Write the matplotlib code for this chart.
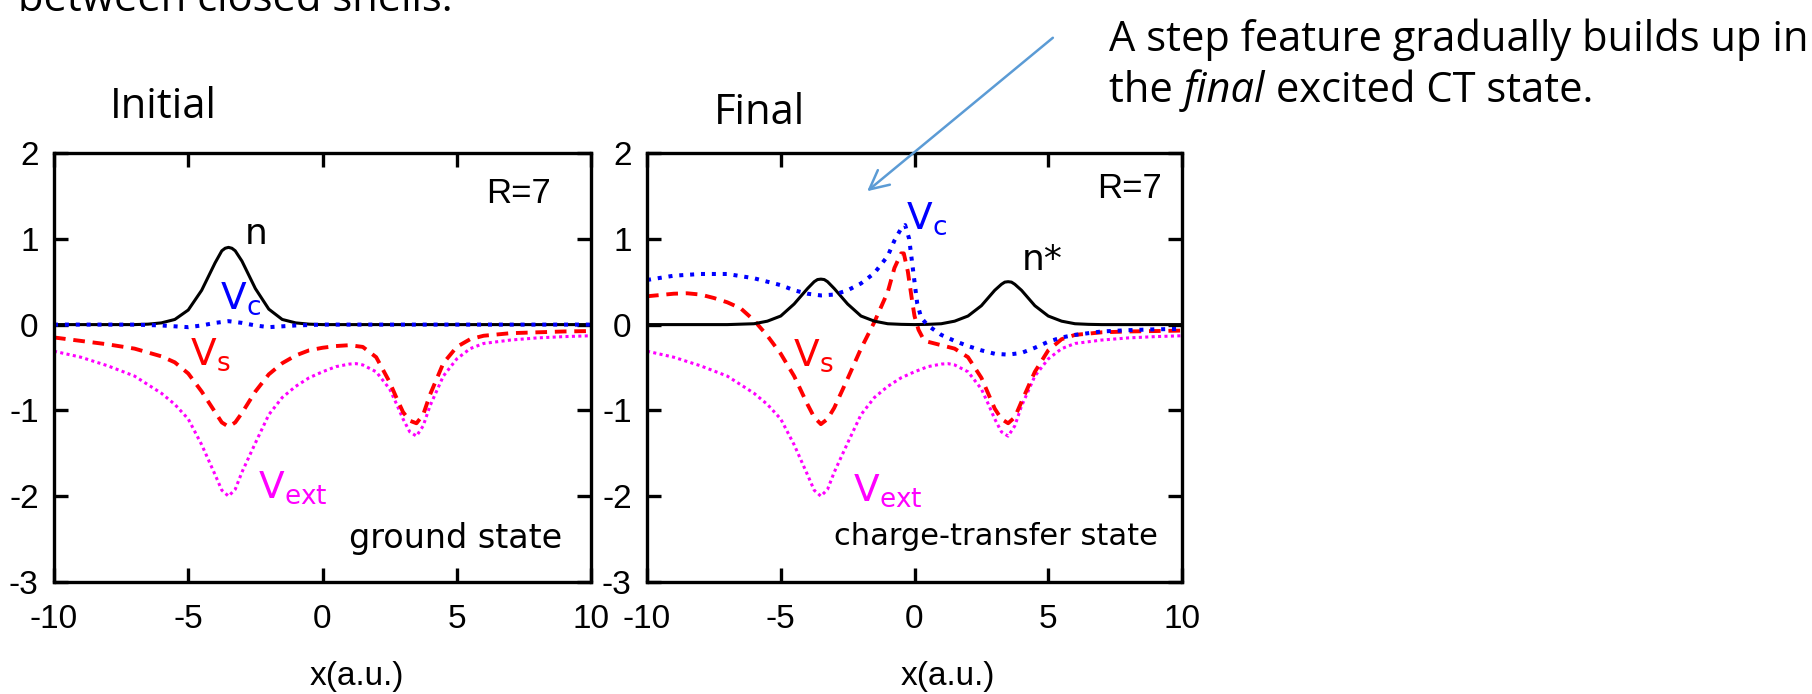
import matplotlib
matplotlib.use("Agg")
import matplotlib.pyplot as plt

W, H = 1812, 694
plt.rcParams["mathtext.fontset"] = "custom"
plt.rcParams["mathtext.rm"] = "DejaVu Sans"
plt.rcParams["mathtext.it"] = "DejaVu Sans"
plt.rcParams["mathtext.default"] = "regular"

# ---------------- data ----------------
# density, ground state
x_n_gs = [-10, -7, -6.5, -6, -5.5, -5, -4.5, -4, -3.75, -3.625, -3.5, -3.375, -3.25, -3, -2.5, -2, -1.5,
          -1, -0.5, 0, 10]
n_gs = [0, 0, 0.005, 0.02, 0.06, 0.17, 0.40, 0.72, 0.86, 0.89, 0.90, 0.89, 0.86, 0.74, 0.42, 0.18, 0.06,
        0.02, 0.005, 0, 0]

# correlation potential, ground state
x_vc_gs = [-10, -7, -6, -5, -4.5, -4, -3.5, -3, -2.5, -2, -1.5, -1, 0, 10]
vc_gs = [0, 0, -0.01, -0.03, -0.01, 0.02, 0.04, 0.02, -0.01, -0.03, -0.02, -0.01, 0, 0]

# Kohn-Sham potential, ground state
x_vs_gs = [-10, -9, -8, -7, -6, -5.5, -5, -4.5, -4, -3.75, -3.5, -3.25, -3, -2.5, -2, -1.5, -1, -0.5,
           0, 0.5, 1, 1.5, 2, 2.5, 2.75, 3, 3.25, 3.5, 3.75, 4, 4.5, 5, 5.5, 6, 7, 8, 9, 10]
vs_gs = [-0.15, -0.19, -0.23, -0.28, -0.37, -0.44, -0.57, -0.78, -1.02, -1.14, -1.19, -1.14, -1.03, -0.78,
         -0.58, -0.45, -0.36, -0.30, -0.27, -0.25, -0.24, -0.26, -0.38, -0.67, -0.85, -1.02, -1.12, -1.15,
         -1.05, -0.82, -0.45, -0.26, -0.17, -0.13, -0.10, -0.09, -0.08, -0.075]

# external potential (same in both states)
x_vext = [-10, -9, -8, -7, -6, -5.5, -5, -4.5, -4, -3.75, -3.5, -3.25, -3, -2.5, -2, -1.5, -1, -0.5, 0,
          0.5, 1, 1.25, 1.5, 2, 2.5, 2.75, 3, 3.25, 3.5, 3.75, 4, 4.5, 5, 5.5, 6, 7, 8, 9, 10]
vext = [-0.31, -0.38, -0.48, -0.60, -0.80, -0.93, -1.10, -1.40, -1.75, -1.93, -2.00, -1.92, -1.72, -1.38,
        -1.05, -0.85, -0.72, -0.62, -0.55, -0.49, -0.46, -0.455, -0.47, -0.55, -0.75, -0.92, -1.10, -1.25,
        -1.30, -1.18, -0.95, -0.60, -0.40, -0.28, -0.22, -0.18, -0.155, -0.14, -0.13]

# density, charge-transfer state
x_n_ct = [-10, -7, -6.5, -6, -5.5, -5, -4.5, -4, -3.75, -3.625, -3.5, -3.375, -3.25, -3, -2.5, -2, -1.5,
          -1, -0.5, 0, 0.5, 1, 1.5, 2, 2.5, 3, 3.25, 3.375, 3.5, 3.625, 3.75, 4, 4.5, 5, 5.5, 6, 6.5, 7, 10]
n_ct = [0, 0, 0.005, 0.01, 0.04, 0.10, 0.24, 0.42, 0.50, 0.525, 0.53, 0.525, 0.50, 0.42, 0.24, 0.10, 0.04,
        0.01, 0.003, 0, 0.003, 0.01, 0.04, 0.10, 0.22, 0.40, 0.47, 0.495, 0.50, 0.495, 0.47, 0.40, 0.22,
        0.10, 0.04, 0.01, 0.003, 0, 0]

# correlation potential, charge-transfer state
x_vc_ct = [-10, -9, -8, -7, -6, -5, -4.5, -4, -3.5, -3, -2.5, -2, -1.5, -1.25, -1, -0.75, -0.5, -0.35,
           -0.2, -0.1, 0, 0.1, 0.25, 0.5, 1, 1.5, 2, 2.5, 3, 3.5, 4, 4.5, 5, 5.5, 6, 7, 8, 9, 10]
vc_ct = [0.52, 0.57, 0.59, 0.59, 0.54, 0.46, 0.40, 0.36, 0.34, 0.35, 0.40, 0.48, 0.60, 0.70, 0.80, 0.98,
         1.12, 1.16, 1.00, 0.75, 0.50, 0.25, 0.08, -0.01, -0.12, -0.19, -0.25, -0.30, -0.34, -0.35, -0.33,
         -0.27, -0.20, -0.15, -0.12, -0.08, -0.065, -0.055, -0.05]

# Kohn-Sham potential, charge-transfer state
x_vs_ct = [-10, -9, -8.5, -8, -7.5, -7, -6.5, -6, -5.5, -5, -4.5, -4, -3.75, -3.5, -3.25, -3, -2.5, -2,
           -1.5, -1, -0.75, -0.5, -0.4, -0.25, -0.1, 0, 0.15, 0.3, 0.5, 1, 1.5, 2, 2.5, 2.75, 3, 3.25,
           3.5, 3.75, 4, 4.5, 5, 5.5, 6, 7, 8, 9, 10]
vs_ct = [0.33, 0.36, 0.365, 0.35, 0.31, 0.26, 0.19, 0.05, -0.13, -0.34, -0.60, -0.93, -1.08, -1.16, -1.10,
         -0.97, -0.63, -0.28, 0.03, 0.38, 0.66, 0.83, 0.83, 0.62, 0.30, 0.10, -0.06, -0.15, -0.20, -0.24,
         -0.28, -0.38, -0.62, -0.80, -0.98, -1.10, -1.15, -1.08, -0.90, -0.55, -0.30, -0.17, -0.12, -0.09,
         -0.08, -0.075, -0.07]

x_ticks = [-10, -5, 0, 5, 10]
y_ticks = [-3, -2, -1, 0, 1, 2]

BLUE = "#0000ff"
RED = "#ff0000"
MAGENTA = "#ff00ff"
ARROW = "#5b9bd5"
TICK_FONT = ["Liberation Sans Narrow", "Liberation Sans"]

fig = plt.figure(figsize=(W / 100, H / 100), dpi=100)


def fx(px):
    return px / W


def fy(py):
    return 1 - py / H


def style_axes(ax):
    ax.set_xlim(-10, 10)
    ax.set_ylim(-3, 2)
    ax.set_xticks(x_ticks)
    ax.set_yticks(y_ticks)
    ax.set_xticklabels([str(t) for t in x_ticks])
    ax.set_yticklabels([str(t) for t in y_ticks])
    for s in ax.spines.values():
        s.set_linewidth(2.4)
    ax.tick_params(direction="in", length=10, width=2.4, top=True, right=True,
                   labelsize=24)
    ax.tick_params(axis="x", pad=16)
    ax.tick_params(axis="y", pad=11)
    for lab in ax.get_xticklabels() + ax.get_yticklabels():
        lab.set_family(TICK_FONT)


def draw_curves(ax, xn, n, xvc, vc, xvs, vs):
    ax.plot(x_vext, vext, color=MAGENTA, lw=2.2, linestyle=(0, (1, 1.1)), dash_capstyle="butt")
    ax.plot(xvs, vs, color=RED, lw=2.8, linestyle=(0, (3, 2)), dash_capstyle="butt")
    ax.plot(xn, n, color="black", lw=2.2, solid_capstyle="butt")
    ax.plot(xvc, vc, color=BLUE, lw=2.9, linestyle=(0, (1, 1.7)), dash_capstyle="butt")


LBL = dict(family="DejaVu Sans")

# ---------------- ground state panel ----------------
ax1 = fig.add_axes([fx(54), fy(582), fx(537), 429 / H])
style_axes(ax1)
draw_curves(ax1, x_n_gs, n_gs, x_vc_gs, vc_gs, x_vs_gs, vs_gs)
ax1.text(8.5, 1.53, "R=7", ha="right", va="center", fontsize=25, family=TICK_FONT)
ax1.text(-2.48, 1.06, "n", ha="center", va="center", fontsize=26, **LBL)
ax1.text(-3.82, 0.19, r"$\mathrm{V_c}$", ha="left", va="baseline", fontsize=27, color=BLUE)
ax1.text(-4.93, -0.47, r"$\mathrm{V_s}$", ha="left", va="baseline", fontsize=27, color=RED)
ax1.text(-2.4, -2.02, r"$\mathrm{V_{ext}}$", ha="left", va="baseline", fontsize=27, color=MAGENTA)
ax1.text(8.92, -2.6, "ground state", ha="right", va="baseline", fontsize=24, **LBL)

# ---------------- charge-transfer panel ----------------
ax2 = fig.add_axes([fx(647), fy(582), fx(535), 429 / H])
style_axes(ax2)
draw_curves(ax2, x_n_ct, n_ct, x_vc_ct, vc_ct, x_vs_ct, vs_ct)
ax2.text(9.25, 1.59, "R=7", ha="right", va="center", fontsize=25, family=TICK_FONT)
ax2.text(4.02, 0.64, "n*", ha="left", va="baseline", fontsize=26, **LBL)
ax2.text(-0.32, 1.12, r"$\mathrm{V_c}$", ha="left", va="baseline", fontsize=27, color=BLUE)
ax2.text(-4.54, -0.48, r"$\mathrm{V_s}$", ha="left", va="baseline", fontsize=27, color=RED)
ax2.text(-2.3, -2.05, r"$\mathrm{V_{ext}}$", ha="left", va="baseline", fontsize=27, color=MAGENTA)
ax2.text(9.1, -2.57, "charge-transfer state", ha="right", va="baseline", fontsize=22, **LBL)

# axis titles below the panels
fig.text(fx(357), fy(676), "x(a.u.)", ha="center", va="center", fontsize=24, family=TICK_FONT)
fig.text(fx(948), fy(676), "x(a.u.)", ha="center", va="center", fontsize=24, family=TICK_FONT)

# ---------------- slide text ----------------
SLIDE = dict(family="Open Sans", fontsize=30, color="black")
fig.text(fx(18), fy(11), "between closed shells.", ha="left", va="baseline", **SLIDE)
fig.text(fx(110), fy(118), "Initial", ha="left", va="baseline", **SLIDE)
fig.text(fx(714), fy(124), "Final", ha="left", va="baseline", **SLIDE)
fig.text(fx(1109), fy(51), "A step feature gradually builds up in", ha="left", va="baseline", **SLIDE)

renderer = fig.canvas.get_renderer()
x_cursor = 1109
for piece, style in [("the ", "normal"), ("final", "italic"), (" excited CT state.", "normal")]:
    t = fig.text(fx(x_cursor), fy(102), piece, ha="left", va="baseline", style=style, **SLIDE)
    bb = t.get_window_extent(renderer=renderer)
    x_cursor += bb.width

fig.add_artist(matplotlib.patches.FancyArrowPatch(
    (fx(1055), fy(36)), (fx(865), fy(193)), transform=fig.transFigure,
    arrowstyle="->", mutation_scale=34, color=ARROW, lw=1.8))

fig.savefig("out.png", dpi=100)
